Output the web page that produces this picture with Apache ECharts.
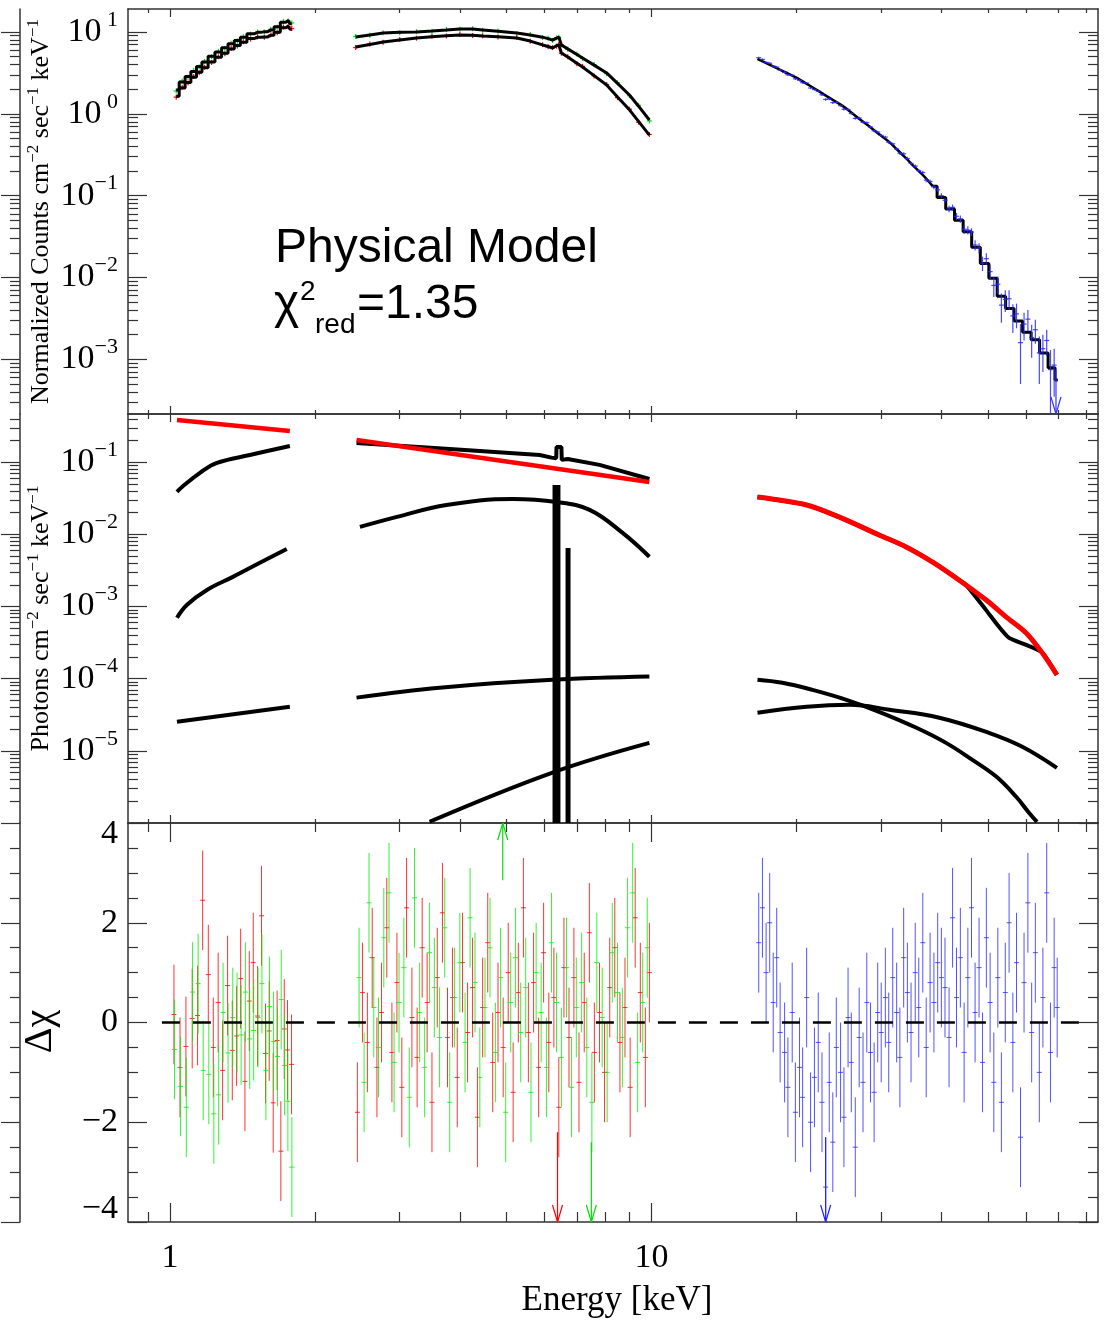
<!DOCTYPE html>
<html><head><meta charset="utf-8">
<script src="https://cdn.jsdelivr.net/npm/echarts@6/dist/echarts.min.js"></script>
<style>html,body{margin:0;padding:0;background:#fff}#c{width:1106px;height:1322px}</style>
</head><body><div id="c"></div>
<script>
// ---------------- axis ranges & ticks ----------------
const X_MIN = 0.818, X_MAX = 84.6;
const Y1_MIN = 2.15e-4, Y1_MAX = 19.1;
const Y2_MIN = 1.0e-6, Y2_MAX = 0.467;
const Y3_MIN = -4, Y3_MAX = 4;
const RES_SIGMA = 1;

const xMajor = [1, 10];
const xLabels = ['1', '10'];
const xMinor = [0.9, 2, 3, 4, 5, 6, 7, 8, 9, 20, 30, 40, 50, 60, 70, 80];

const y1Major = [1e-3, 1e-2, 1e-1, 1, 10];
const y1Exp = ['−3', '−2', '−1', ' 0', ' 1'];
const y1Minor = [3e-4,4e-4,5e-4,6e-4,7e-4,8e-4,9e-4,2e-3,3e-3,4e-3,5e-3,6e-3,7e-3,8e-3,9e-3,
  0.02,0.03,0.04,0.05,0.06,0.07,0.08,0.09,0.2,0.3,0.4,0.5,0.6,0.7,0.8,0.9,2,3,4,5,6,7,8,9];

const y2Major = [1e-5, 1e-4, 1e-3, 1e-2, 1e-1];
const y2Exp = ['−5', '−4', '−3', '−2', '−1'];
const y2Minor = [2e-6,3e-6,4e-6,5e-6,6e-6,7e-6,8e-6,9e-6,2e-5,3e-5,4e-5,5e-5,6e-5,7e-5,8e-5,9e-5,
  2e-4,3e-4,4e-4,5e-4,6e-4,7e-4,8e-4,9e-4,2e-3,3e-3,4e-3,5e-3,6e-3,7e-3,8e-3,9e-3,
  0.02,0.03,0.04,0.05,0.06,0.07,0.08,0.09,0.2,0.3,0.4];

const y3Major = [-4, -2, 0, 2, 4];
const y3Text = ['−4', '−2', '0', '2', '4'];
const y3Minor = [-3.5,-3,-2.5,-1.5,-1,-0.5,0.5,1,1.5,2.5,3,3.5];
const y3StripMajor = [-4, -2, 2, 4];
const y3StripMinor = [-3.5,-3,-2.5,-1.5,-1,-0.5,0,0.5,1,1.5,2.5,3,3.5];

// ---------------- panel 1: counts spectra ----------------
const m1E     = [1.03,1.06,1.09,1.12,1.15,1.18,1.22,1.26,1.30,1.34,1.38,1.42,1.47,1.52,1.57,1.62,1.67,1.72,1.76,1.79];
const greenM1 = [1.95,2.45,2.85,3.3,3.8,4.3,5.05,5.7,6.4,7.2,7.9,8.6,9.5,9.9,10.1,10.6,11.6,13.2,13.8,12.6];
const redM1   = [1.64,2.07,2.42,2.8,3.22,3.65,4.3,4.9,5.5,6.2,6.85,7.5,8.3,8.6,8.7,9.1,9.9,11.3,11.8,10.8];
const greenD1 = [1.90,2.52,2.80,3.38,3.74,4.38,4.98,5.8,6.3,7.3,7.8,8.75,9.4,10.0,10.0,10.8,11.4,13.4,13.6,12.9];
const redD1   = [1.60,2.12,2.38,2.86,3.18,3.72,4.25,4.98,5.42,6.3,6.75,7.62,8.2,8.72,8.6,9.25,9.8,11.5,11.6,11.0];

const m2E     = [2.43,2.6,2.77,3.0,3.25,3.5,3.75,4.0,4.25,4.46,4.8,5.25,5.6,5.94,6.1,6.23,6.35,6.42,6.5,6.7,7.0,7.19,7.6,8.07,8.5,9.0,9.4,9.9];
const greenM2 = [8.68,9.2,9.7,9.9,10.0,10.3,10.6,10.9,10.85,10.6,10.2,9.7,9.2,8.65,8.3,7.95,8.4,8.7,6.93,6.22,5.31,4.82,3.94,3.16,2.36,1.70,1.24,0.84];
const redM2   = [6.56,7.05,7.55,8.0,8.45,8.75,9.0,9.2,9.1,8.95,8.75,8.45,7.75,6.95,6.65,6.38,6.8,6.95,5.55,4.95,4.15,3.74,2.93,2.25,1.61,1.12,0.81,0.55];
const greenD2 = [8.8,9.1,9.8,9.8,10.1,10.2,10.7,10.8,10.95,10.5,10.3,9.6,9.3,8.55,8.4,7.9,8.5,8.6,7.0,6.15,5.4,4.75,4.0,3.1,2.4,1.67,1.27,0.82];
const redD2   = [6.45,7.15,7.5,8.1,8.4,8.85,8.95,9.3,9.05,9.0,8.7,8.55,7.7,7.0,6.6,6.45,6.7,7.05,5.5,5.0,4.1,3.8,2.9,2.28,1.58,1.14,0.79,0.56];

// blue model: smooth part and binned (stepped) high-energy part
const blueME  = [16.6,17.4,18.2,19.0,19.9,20.8,21.8,22.8,23.8,24.9,26.0,27.2,28.4,29.7,31.0,32.4,33.8,35.3,36.8,38.4];
const blueM   = [4.68,4.10,3.61,3.20,2.81,2.41,2.04,1.73,1.48,1.26,1.04,0.841,0.695,0.562,0.465,0.364,0.285,0.220,0.173,0.130];
const blueHiE = [38.4,40.0,41.7,43.5,45.3,47.2,49.2,51.2,53.3,55.5,57.8,60.2,62.7,65.3,68.0,69.8];
const blueHi  = [0.130,0.0948,0.0689,0.0501,0.0362,0.0234,0.0148,0.00977,0.00589,0.00417,0.00295,0.00214,0.00174,0.00120,0.00079,0.00056];

const blueDE  = [16.7,17.0,17.3,17.6,17.9,18.2,18.5,18.9,19.2,19.6,19.9,20.3,20.6,21.0,21.4,21.8,22.2,22.6,23.0,23.4,23.8,24.2,24.7,25.1,25.6,26.0,26.5,27.0,27.5,28.0,28.5,29.0,29.5,30.0,30.6,31.1,31.7,32.3,32.8,33.4,34.0,34.6,35.3,35.9,36.6,37.2,37.9,38.6,39.3,40.0,40.7,41.5,42.2,43.0,43.8,44.6,45.4,46.2,47.0,47.9,48.7,49.6,50.5,51.4,52.4,53.3,54.3,55.3,56.3,57.3,58.4,59.4,60.5,61.6,62.7,63.9,65.0,66.2,67.4,68.6];
const blueD   = [4.85,4.62,4.25,4.15,3.83,3.72,3.43,3.22,3.00,2.96,2.68,2.57,2.40,2.38,2.07,1.98,1.89,1.71,1.50,1.52,
  1.37,1.38,1.26,1.14,1.13,1.01,0.88,0.89,0.79,0.78,0.69,0.62,0.60,0.545,0.52,0.45,0.43,0.372,0.33,0.325,
  0.285,0.248,0.23,0.202,0.192,0.155,0.149,0.128,0.118,0.100,0.088,0.069,0.072,0.056,0.052,0.039,0.038,0.036,0.025,0.023,
  0.0150,0.0170,0.0118,0.0080,0.0083,0.0046,0.0054,0.0055,0.0034,0.0036,0.0016,0.0027,0.0031,0.00185,0.0023,0.0012,0.00135,0.0017,0.00075,0.00085];
const blueDErr= [0.14,0.13,0.12,0.12,0.11,0.11,0.10,0.10,0.09,0.09,0.085,0.08,0.075,0.07,0.066,0.062,0.058,0.055,0.052,0.05,
  0.047,0.045,0.043,0.04,0.037,0.035,0.033,0.031,0.029,0.027,0.025,0.024,0.022,0.021,0.02,0.018,0.017,0.016,0.015,0.014,
  0.013,0.012,0.011,0.010,0.0095,0.009,0.0085,0.008,0.0075,0.007,0.0068,0.0064,0.006,0.0056,0.0052,0.0048,0.0044,0.004,0.0036,0.0033,
  0.003,0.0028,0.0025,0.0022,0.002,0.0018,0.0016,0.0015,0.0013,0.0012,0.0011,0.001,0.0009,0.0008,0.00075,0.0007,0.00065,0.0006,0.00055,0.0005];
const p1ArrowBlue = [[69.2, 7.5e-4, Y1_MIN]];

// ---------------- panel 2: unfolded model components ----------------
const p2Red1 = [[1.034,0.385],[1.774,0.272]];
const p2Red2 = [[2.44,0.204],[9.9,0.0533]];
const p2Red3 = [[16.6,0.033],[21.0,0.0256],[24.5,0.0175],[29.7,0.00984],[33.8,0.00671],[38.3,0.00416],[43.5,0.00234],[49.5,0.00124],[54.5,7.2e-4],[60.0,4.3e-4],[64.8,2.28e-4],[69.5,1.13e-4]];
const p2Tot1 = [[1.034,0.039],[1.059,0.0455],[1.154,0.0713],[1.252,0.098],[1.465,0.126],[1.774,0.168]];
const p2Tot2 = [[2.44,0.185],[3.81,0.153],[5.86,0.126],[6.2,0.116],[6.34,0.114],[6.35,0.163],[6.50,0.163],[6.51,0.108],[6.7,0.111],[7.8,0.092],[9.9,0.0587]];
const p2Tot3 = [[16.6,0.033],[21.0,0.0256],[24.5,0.0175],[29.7,0.00984],[33.8,0.00671],[38.3,0.00416],[43.5,0.00234],[45.0,0.0020],[49.5,9.0e-4],[52.7,5.24e-4],[55.3,3.68e-4],[60.0,2.94e-4],[64.8,2.3e-4],[69.5,1.13e-4]];
const p2C2a = [[1.034,7.0e-4],[1.085,1.06e-3],[1.193,1.7e-3],[1.351,2.58e-3],[1.537,4.04e-3],[1.748,6.3e-3]];
const p2C2b = [[2.48,0.0127],[2.96,0.0175],[3.75,0.0256],[5.15,0.031],[6.35,0.0282],[7.44,0.0219],[8.71,0.0105],[9.9,0.0049]];
const p2C3a = [[1.034,2.54e-5],[1.774,4.1e-5]];
const p2C3b = [[2.44,5.47e-5],[3.63,7.5e-5],[6.23,9.66e-5],[9.9,1.07e-4]];
const p2C3c = [[16.6,9.7e-5],[18.7,8.8e-5],[21.6,7.0e-5],[25.4,5.1e-5],[29.7,3.48e-5],[35.5,2.09e-5],[40.9,1.29e-5],[46.4,7.5e-6],[52.0,4.4e-6],[57.2,2.31e-6],[60.8,1.39e-6],[63.2,1.04e-6]];
const p2C4b = [[3.46,1.04e-6],[6.23,5.0e-6],[9.9,1.29e-5]];
const p2C4c = [[16.6,3.37e-5],[21.0,4.08e-5],[25.8,4.35e-5],[31.2,3.71e-5],[39.6,2.88e-5],[50.2,1.78e-5],[58.9,1.14e-5],[69.5,5.8e-6]];
const feLines = [[6.23,6.47,0.0485],[6.63,6.79,6.5e-3]];

// ---------------- panel 3: residuals ----------------
const resRedE1 = [1.019,1.049,1.079,1.112,1.141,1.169,1.201,1.23,1.259,1.286,1.317,1.347,1.375,1.402,1.431,1.461,1.489,1.52,1.549,1.579,1.607,1.638,1.669,1.699,1.727,1.754,1.788];
const resRed1  = [0.16,-0.9,-0.48,0.08,0.14,2.45,0.96,-0.5,0.4,-0.96,0.74,-0.56,-0.27,0.88,-1.18,0.43,1.2,0.13,2.14,-0.62,-0.17,-1.61,-0.36,-2.58,-0.13,-0.55,-0.84];
const resGreenE1 = [1.022,1.052,1.081,1.114,1.144,1.172,1.204,1.233,1.262,1.289,1.320,1.350,1.378,1.405,1.434,1.464,1.492,1.523,1.552,1.582,1.610,1.641,1.672,1.702,1.730,1.757,1.791];
const resGreen1  = [-0.54,-1.28,-1.7,0.61,0.78,-0.96,-1.04,-1.83,-1.45,0.2,-0.61,0.1,0.0,-0.25,0.61,-0.33,-0.16,0.1,0.78,-0.96,0.32,-0.38,-0.68,0.46,-0.86,-1.58,-2.9];

const resRedE2 = [2.45,2.51,2.57,2.63,2.69,2.75,2.82,2.89,2.96,3.03,3.10,3.18,3.26,3.34,3.42,3.50,3.59,3.68,3.77,3.86,3.95,4.05,4.15,4.25,4.35,4.46,4.57,4.68,4.80,4.92,5.04,5.16,5.29,5.42,5.55,5.69,5.83,5.97,6.12,6.27,6.42,6.58,6.74,6.90,7.07,7.25,7.43,7.61,7.80,7.99,8.19,8.39,8.60,8.81,9.03,9.25,9.48,9.71,9.90];
const resRed2  = [-1.8,0.6,-0.4,1.3,-0.9,0.2,1.9,-0.6,0.8,-1.3,2.3,0.1,-0.7,1.5,0.4,-1.6,0.9,2.2,-0.3,0.5,-1.1,1.2,-0.2,0.7,-1.9,0.3,1.6,-0.8,0.2,-0.5,1.0,-1.4,0.6,2.3,-0.2,0.8,-0.9,1.4,-0.4,0.5,-1.7,1.1,-0.3,0.9,-1.2,0.4,1.8,-0.6,0.2,-1.0,0.7,1.5,-0.4,0.3,-1.3,2.1,0.6,-0.7,1.0];
const resGreenE2 = [2.47,2.53,2.59,2.65,2.71,2.78,2.85,2.92,2.99,3.06,3.14,3.22,3.30,3.38,3.46,3.54,3.63,3.72,3.81,3.90,4.00,4.10,4.20,4.30,4.40,4.51,4.62,4.74,4.86,4.98,5.10,5.22,5.35,5.48,5.62,5.76,5.90,6.05,6.20,6.35,6.50,6.66,6.82,6.98,7.16,7.34,7.52,7.70,7.90,8.09,8.29,8.50,8.70,8.92,9.14,9.36,9.59,9.80];
const resGreen2  = [0.9,-1.2,2.4,0.3,-0.5,1.7,2.6,-0.8,0.4,1.1,-1.5,2.5,0.2,-0.9,1.4,0.7,-0.3,1.9,-1.6,0.5,1.2,-0.4,2.1,0.8,-1.1,0.3,1.5,-0.6,0.9,-1.8,0.4,1.3,-0.2,0.7,-1.4,1.0,0.2,-0.9,1.6,0.4,-0.7,1.1,-1.3,0.3,0.8,-0.5,-1.6,1.2,0.1,-1.0,1.4,0.6,-0.3,1.9,2.6,-0.8,0.4,1.5];

const resBlueE = [16.7,17.0,17.3,17.6,17.9,18.2,18.5,18.9,19.2,19.6,19.9,20.3,20.6,21.0,21.4,21.8,22.2,22.6,23.0,23.4,23.8,24.2,24.7,25.1,25.6,26.0,26.5,27.0,27.5,28.0,28.5,29.0,29.5,30.0,30.6,31.1,31.7,32.3,32.8,33.4,34.0,34.6,35.3,35.9,36.6,37.2,37.9,38.6,39.3,40.0,40.7,41.5,42.2,43.0,43.8,44.6,45.4,46.2,47.0,47.9,48.7,49.6,50.5,51.4,52.4,53.3,54.3,55.3,56.3,57.3,58.4,59.4,60.5,61.6,62.7,63.9,65.0,66.2,67.4,68.6,69.6];
const resBlue  = [1.6,2.3,1.0,2.0,0.4,1.3,-0.2,
  -0.6,-1.3,0.2,-1.8,-0.9,-1.5,0.5,-2.0,-1.1,-0.4,-1.6,-3.3,
  -1.2,-2.4,-0.5,-1.0,-1.9,0.1,-0.8,-2.5,-0.3,-1.2,0.4,-0.6,-1.4,0.2,-0.2,
  0.5,-0.4,0.9,0.2,-0.7,1.3,0.6,-0.2,1.0,0.3,1.6,-0.5,0.8,0.4,1.2,0.9,
  0.7,-0.3,2.1,0.5,1.3,-0.6,0.9,2.3,0.2,1.1,-0.8,1.7,0.4,-1.2,0.9,
  -1.6,0.6,2.0,-0.4,1.2,-2.3,0.8,2.4,-0.2,1.4,-1.0,0.5,2.6,-0.6,1.1,0.3];

const resArrowRed = [[6.38,-2.2,-4]];
const resArrowGreen = [[4.91,2.85,4],[7.5,-2.4,-4]];
const resArrowBlue = [[23.0,-2.3,-4]];
const zeroLine = [[0.962,0],[81.5,0]];

// ---------------- helpers ----------------
const SERIF = '"Liberation Serif","Times New Roman",serif';
const SANS = '"Liberation Sans",Arial,sans-serif';
const AX = '#333';
const zip = (a, b) => a.map((x, i) => [x, b[i]]);
const zip3 = (a, b, c) => a.map((x, i) => [x, b[i], c[i]]);

const RED = 'rgba(255,0,0,0.8)', GREEN = 'rgba(0,240,0,0.8)', BLUE = 'rgba(40,40,255,0.8)';
const FS = 34;

function powFormatter(vals, exps) {
  return function (v) {
    let k = 0, best = 1e9;
    vals.forEach((t, i) => { const d = Math.abs(Math.log10(t) - Math.log10(v)); if (d < best) { best = d; k = i; } });
    return '{b|10}{e|' + exps[k] + '}';
  };
}
const powRich = {
  b: { fontSize: FS, fontFamily: SERIF, color: '#000', lineHeight: 46 },
  e: { fontSize: 22, fontFamily: SERIF, color: '#000', lineHeight: 22, verticalAlign: 'top' }
};

function xAx(grid, pos, vals, len, extra) {
  return Object.assign({
    type: 'log', logBase: 10, gridIndex: grid, position: pos, min: X_MIN, max: X_MAX,
    axisLine: { show: true, onZero: false, lineStyle: { color: AX, width: 1.5 } },
    axisTick: { show: true, inside: true, length: len, customValues: vals, lineStyle: { color: AX, width: 1.2 } },
    axisLabel: { show: false }, splitLine: { show: false }, minorTick: { show: false }, minorSplitLine: { show: false }
  }, extra || {});
}
function yAx(grid, type, min, max, pos, vals, len, extra) {
  const o = {
    type: type, gridIndex: grid, position: pos, min: min, max: max,
    axisLine: { show: true, onZero: false, lineStyle: { color: AX, width: 1.5 } },
    axisTick: { show: true, inside: true, length: len, customValues: vals, lineStyle: { color: AX, width: 1.2 } },
    axisLabel: { show: false }, splitLine: { show: false }, minorTick: { show: false }, minorSplitLine: { show: false }
  };
  if (type === 'log') o.logBase = 10;
  return Object.assign(o, extra || {});
}

const nameRich = {
  a: { fontSize: 26, fontFamily: SERIF, color: '#000', lineHeight: 32 },
  s: { fontSize: 17, fontFamily: SERIF, color: '#000', lineHeight: 17, verticalAlign: 'top' }
};

// x axes: 4 per grid -> index g*4
const xAxes = [];
const xTickLen = [[8, 4, 8, 4], [8, 4, 8, 5], [19, 10, 19, 9]];
for (let g = 0; g < 3; g++) {
  const L = xTickLen[g];
  const extraMain = g === 2 ? {
    axisLabel: { show: true, customValues: xMajor, margin: 19, fontSize: FS, fontFamily: SERIF, color: '#000',
      formatter: v => xLabels[xMajor.findIndex(t => Math.abs(t - v) < 1e-6 * t)] },
    name: 'Energy [keV]', nameLocation: 'middle', nameGap: 61,
    nameTextStyle: { fontSize: 35, fontFamily: SERIF, color: '#000', padding: [0, 0, 0, 8] }
  } : {};
  xAxes.push(xAx(g, 'bottom', xMajor, L[0], extraMain));
  xAxes.push(xAx(g, 'bottom', xMinor, L[1], { axisLine: { show: false, onZero: false } }));
  xAxes.push(xAx(g, 'top', xMajor, L[2]));
  xAxes.push(xAx(g, 'top', xMinor, L[3], { axisLine: { show: false, onZero: false } }));
}

// y axes: 6 per grid -> index g*6
const yAxes = [];
const STRIP = -1078;
function pushY(g, type, min, max, major, minor, stripMajor, stripMinor, mainExtra) {
  yAxes.push(yAx(g, type, min, max, 'left', major, 19, mainExtra));
  yAxes.push(yAx(g, type, min, max, 'left', minor, 10, { axisLine: { show: false, onZero: false } }));
  yAxes.push(yAx(g, type, min, max, 'right', major, 19));
  yAxes.push(yAx(g, type, min, max, 'right', minor, 10, { axisLine: { show: false, onZero: false } }));
  yAxes.push(yAx(g, type, min, max, 'right', stripMajor, 19, { offset: STRIP }));
  yAxes.push(yAx(g, type, min, max, 'right', stripMinor, 10, { offset: STRIP, axisLine: { show: false, onZero: false } }));
}
pushY(0, 'log', Y1_MIN, Y1_MAX, y1Major, y1Minor, y1Major, y1Minor, {
  axisLabel: { show: true, customValues: y1Major, margin: 10, formatter: powFormatter(y1Major, y1Exp), rich: powRich },
  name: '{a|Normalized Counts cm}{s|−2}{a| sec}{s|−1}{a| keV}{s|−1}', nameLocation: 'middle', nameGap: 71,
  nameMoveOverlap: false,
  nameTextStyle: { rich: nameRich }
});
pushY(1, 'log', Y2_MIN, Y2_MAX, y2Major, y2Minor, y2Major, y2Minor, {
  axisLabel: { show: true, customValues: y2Major, margin: 10, formatter: powFormatter(y2Major, y2Exp), rich: powRich },
  name: '{a|Photons cm}{s|−2}{a| sec}{s|−1}{a| keV}{s|−1}', nameLocation: 'middle', nameGap: 71,
  nameMoveOverlap: false,
  nameTextStyle: { rich: nameRich }
});
pushY(2, 'value', Y3_MIN, Y3_MAX, y3Major, y3Minor, y3StripMajor, y3StripMinor, {
  axisLabel: { show: true, customValues: y3Major, margin: 10,
    formatter: function (v) {
      const k = y3Major.findIndex(t => Math.abs(t - v) < 1e-9);
      if (v >= Y3_MAX) return '{t|' + y3Text[k] + '}';
      if (v <= Y3_MIN) return '{d|' + y3Text[k] + '}';
      return '{n|' + y3Text[k] + '}';
    },
    rich: {
      n: { fontSize: FS, fontFamily: SERIF, color: '#000' },
      t: { fontSize: FS, fontFamily: SERIF, color: '#000', padding: [22, 0, 0, 0] },
      d: { fontSize: FS, fontFamily: SERIF, color: '#000', padding: [0, 0, 26, 0] }
    }
  },
  name: 'Δχ', nameLocation: 'middle', nameGap: 68, nameMoveOverlap: false,
  nameTextStyle: { fontSize: 40, fontFamily: SERIF, color: '#000', padding: [0, 18, 0, 0] }
});

// ---------------- renderers ----------------
function crossRender(color) {
  return function (params, api) {
    const c = api.coord([api.value(0), api.value(1)]);
    return { type: 'group', children: [
      { type: 'line', shape: { x1: c[0] - 2.5, y1: c[1], x2: c[0] + 2.5, y2: c[1] }, style: { stroke: color, lineWidth: 1.2 } },
      { type: 'line', shape: { x1: c[0], y1: c[1] - 2.5, x2: c[0], y2: c[1] + 2.5 }, style: { stroke: color, lineWidth: 1.2 } }
    ] };
  };
}
function errRender(color) {
  return function (params, api) {
    const e = api.value(0), v = api.value(1), s = api.value(2);
    const c = api.coord([e, v]);
    const lo = api.coord([e, Math.max(v - s, 1e-12)]);
    const hi = api.coord([e, v + s]);
    return { type: 'group', children: [
      { type: 'line', shape: { x1: c[0], y1: lo[1], x2: c[0], y2: hi[1] }, style: { stroke: color, lineWidth: 1.2 } },
      { type: 'line', shape: { x1: c[0] - 2.5, y1: c[1], x2: c[0] + 2.5, y2: c[1] }, style: { stroke: color, lineWidth: 1.2 } }
    ] };
  };
}
function resRender(color) {
  return function (params, api) {
    const e = api.value(0), v = api.value(1);
    const c = api.coord([e, v]);
    const lo = api.coord([e, v - RES_SIGMA]);
    const hi = api.coord([e, v + RES_SIGMA]);
    return { type: 'group', children: [
      { type: 'line', shape: { x1: c[0], y1: lo[1], x2: c[0], y2: hi[1] }, style: { stroke: color, lineWidth: 1 } },
      { type: 'line', shape: { x1: c[0] - 2.5, y1: c[1], x2: c[0] + 2.5, y2: c[1] }, style: { stroke: color, lineWidth: 1 } }
    ] };
  };
}
function arrowRender(color) {
  return function (params, api) {
    const e = api.value(0);
    const p0 = api.coord([e, api.value(1)]), p1 = api.coord([e, api.value(2)]);
    const dir = p1[1] > p0[1] ? 1 : -1;
    return { type: 'group', children: [
      { type: 'line', shape: { x1: p0[0], y1: p0[1], x2: p1[0], y2: p1[1] }, style: { stroke: color, lineWidth: 1.2 } },
      { type: 'polyline', shape: { points: [[p1[0] - 5, p1[1] - dir * 17], [p1[0], p1[1]], [p1[0] + 5, p1[1] - dir * 17]] },
        style: { stroke: color, lineWidth: 1.2, fill: null } }
    ] };
  };
}
function feRender(params, api) {
  const a = api.coord([api.value(0), api.value(2)]);
  const b = api.coord([api.value(1), Y2_MIN]);
  return { type: 'rect', shape: { x: a[0], y: a[1], width: b[0] - a[0], height: b[1] - a[1] }, style: { fill: '#000' } };
}

function custom(g, data, render, enc, z) {
  return { type: 'custom', xAxisIndex: g * 4, yAxisIndex: g * 6, data: data, renderItem: render, clip: true,
    encode: enc || { x: 0, y: 1 }, silent: true, z: z || 2 };
}
function line(g, data, color, width, step, z, smooth) {
  return { type: 'line', xAxisIndex: g * 4, yAxisIndex: g * 6, data: data, showSymbol: false, symbol: 'none',
    step: step || false, smooth: smooth || false, lineStyle: { color: color, width: width }, clip: true, silent: true, z: z || 2 };
}

const series = [
  // panel 1 data (red/green under models)
  custom(0, zip(m1E, greenD1), crossRender('#00e000')),
  custom(0, zip(m1E, redD1), crossRender('#ff0000')),
  custom(0, zip(m2E, greenD2), crossRender('#00e000')),
  custom(0, zip(m2E, redD2), crossRender('#ff0000')),
  // panel 1 models
  line(0, zip(m1E, greenM1), '#000', 3, 'middle', 3),
  line(0, zip(m1E, redM1), '#000', 3, 'middle', 3),
  line(0, zip(m2E, greenM2), '#000', 3, false, 3),
  line(0, zip(m2E, redM2), '#000', 3, false, 3),
  line(0, zip(blueME, blueM), '#000', 2.5, false, 3, 0.3),
  line(0, zip(blueHiE, blueHi), '#000', 3, 'middle', 3),
  // blue data over the model
  custom(0, zip3(blueDE, blueD, blueDErr), errRender('rgba(40,40,255,0.85)'), null, 4),
  custom(0, p1ArrowBlue, arrowRender('#3333ff'), { x: 0, y: [1, 2] }, 4),
  // panel 2 components
  custom(1, feLines, feRender, { x: [0, 1], y: 2 }),
  line(1, p2Tot1, '#000', 4, false, 2, 0.4), line(1, p2Tot2, '#000', 4), line(1, p2Tot3, '#000', 4, false, 2, 0.2),
  line(1, p2C2a, '#000', 4, false, 2, 0.4), line(1, p2C2b, '#000', 4, false, 2, 0.4),
  line(1, p2C3a, '#000', 4), line(1, p2C3b, '#000', 4, false, 2, 0.4), line(1, p2C3c, '#000', 4, false, 2, 0.4),
  line(1, p2C4b, '#000', 4, false, 2, 0.4), line(1, p2C4c, '#000', 4, false, 2, 0.4),
  line(1, p2Red1, '#ff0000', 4.5, false, 3), line(1, p2Red2, '#ff0000', 4.5, false, 3), line(1, p2Red3, '#ff0000', 5, false, 3, 0.3),
  // panel 3 residuals
  custom(2, zip(resRedE1, resRed1), resRender(RED)),
  custom(2, zip(resGreenE1, resGreen1), resRender(GREEN)),
  custom(2, zip(resRedE2, resRed2), resRender(RED)),
  custom(2, zip(resGreenE2, resGreen2), resRender(GREEN)),
  custom(2, zip(resBlueE, resBlue), resRender(BLUE)),
  custom(2, resArrowRed, arrowRender('#ff0000'), { x: 0, y: [1, 2] }),
  custom(2, resArrowGreen, arrowRender('#00e000'), { x: 0, y: [1, 2] }),
  custom(2, resArrowBlue, arrowRender('#2222ff'), { x: 0, y: [1, 2] }),
  Object.assign(line(2, zeroLine, '#000', 2.5, false, 4), { lineStyle: { color: '#000', width: 2.5, type: [18, 13] } })
];

const chart = echarts.init(document.getElementById('c'), null, { renderer: 'canvas' });
chart.setOption({
  animation: false,
  backgroundColor: '#fff',
  textStyle: { fontFamily: SERIF },
  grid: [
    { left: 128, top: 9, width: 970, height: 405, outerBoundsMode: 'none' },
    { left: 128, top: 414, width: 970, height: 409, outerBoundsMode: 'none' },
    { left: 128, top: 823, width: 970, height: 399, outerBoundsMode: 'none' }
  ],
  xAxis: xAxes,
  yAxis: yAxes,
  series: series,
  graphic: [
    { type: 'text', x: 275, y: 249, style: { text: 'Physical Model', fontSize: 48, fontFamily: SANS, fill: '#000', align: 'left', verticalAlign: 'middle' } },
    { type: 'text', x: 274, y: 305, style: { text: 'χ', fontSize: 48, fontFamily: SANS, fill: '#000', align: 'left', verticalAlign: 'middle' } },
    { type: 'text', x: 300, y: 292, style: { text: '2', fontSize: 28, fontFamily: SANS, fill: '#000', align: 'left', verticalAlign: 'middle' } },
    { type: 'text', x: 315, y: 325, style: { text: 'red', fontSize: 28, fontFamily: SANS, fill: '#000', align: 'left', verticalAlign: 'middle' } },
    { type: 'text', x: 357, y: 305, style: { text: '=1.35', fontSize: 48, fontFamily: SANS, fill: '#000', align: 'left', verticalAlign: 'middle' } }
  ]
});
</script></body></html>
